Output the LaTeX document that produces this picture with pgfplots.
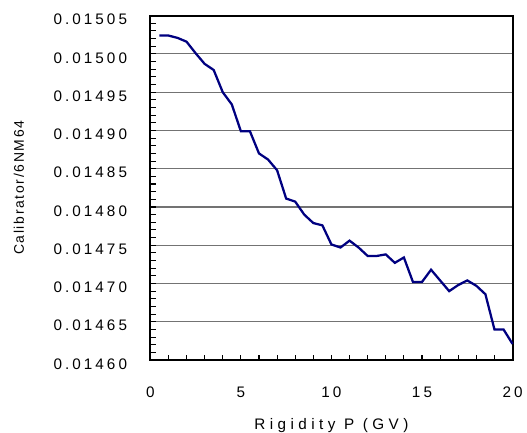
\documentclass[border=0pt]{standalone}
\usepackage{fontspec}
\setmainfont{Liberation Sans}
\newfontfamily\tickfont{Liberation Sans}[LetterSpace=20]
\newfontfamily\labfont{Liberation Sans}[LetterSpace=29]
\newfontfamily\ylabfont{Liberation Sans}[LetterSpace=12]
\usepackage{pgfplots}
\pgfplotsset{compat=1.18}
\definecolor{gridc}{RGB}{115,115,115}
\definecolor{navyline}{RGB}{0,0,128}

\begin{document}
\begin{tikzpicture}
\begin{axis}[
  scale only axis, width=273pt, height=259.5pt,
  xmin=0, xmax=20, ymin=0.0146, ymax=0.01505,
  xtick={0,5,10,15,20}, minor x tick num=4,
  ytick={0.0146,0.01465,0.0147,0.01475,0.0148,0.01485,0.0149,0.01495,0.015,0.01505},
  minor y tick num=4,
  scaled y ticks=false,
  /pgf/number format/assume math mode=true,
  ticklabel style={font=\tickfont\fontsize{11.5}{13}\selectfont},
  yticklabel style={/pgf/number format/fixed, /pgf/number format/fixed zerofill,
    /pgf/number format/precision=5, xshift=-14pt, yshift=-3pt},
  xticklabel style={yshift=-16.5pt},
  tick align=inside, xtick pos=left, ytick pos=left,
  major tick length=4pt, minor tick length=4pt,
  every tick/.style={black, line width=0.8pt},
  ymajorgrids, grid style={gridc, line width=0.8pt},
  axis line style={black, line width=1.4pt},
  xlabel={Rigidity P (GV)},
  xlabel style={font=\labfont\fontsize{11.5}{13}\selectfont, inner sep=0pt, at={([yshift=-49.5pt]axis description cs:0.5,0)}, anchor=center},
  ylabel={Calibrator/6NM64},
  ylabel style={font=\ylabfont\fontsize{10.5}{12}\selectfont, at={([xshift=-99pt]axis description cs:0,0.5)}, anchor=center},
  clip=false,
]
\addplot[navyline, line width=1.7pt] coordinates {
(0.5,0.015024) (1.0,0.015024) (1.5,0.015021) (2.0,0.015016) (2.5,0.015001)
(3.0,0.014987) (3.5,0.014979) (4.0,0.014950) (4.5,0.014934) (5.0,0.014899)
(5.5,0.014899) (6.0,0.014870) (6.5,0.014862) (7.0,0.014848) (7.5,0.014811)
(8.0,0.014807) (8.5,0.014790) (9.0,0.014779) (9.5,0.014776) (10.0,0.014751)
(10.5,0.014747) (11.0,0.014756) (11.5,0.014747) (12.0,0.014736) (12.5,0.014736)
(13.0,0.014738) (13.5,0.014727) (14.0,0.014734) (14.5,0.014702) (15.0,0.014702)
(15.5,0.014718) (16.0,0.014704) (16.5,0.014690) (17.0,0.014698) (17.5,0.014704)
(18.0,0.014697) (18.5,0.014686) (19.0,0.014640) (19.5,0.014640) (20.0,0.014621)
};
\end{axis}
\path (current axis.south west) ++(-113.25pt,-54.5pt);
\path (current axis.north east) ++(9pt,11.8pt);
\end{tikzpicture}
\end{document}
